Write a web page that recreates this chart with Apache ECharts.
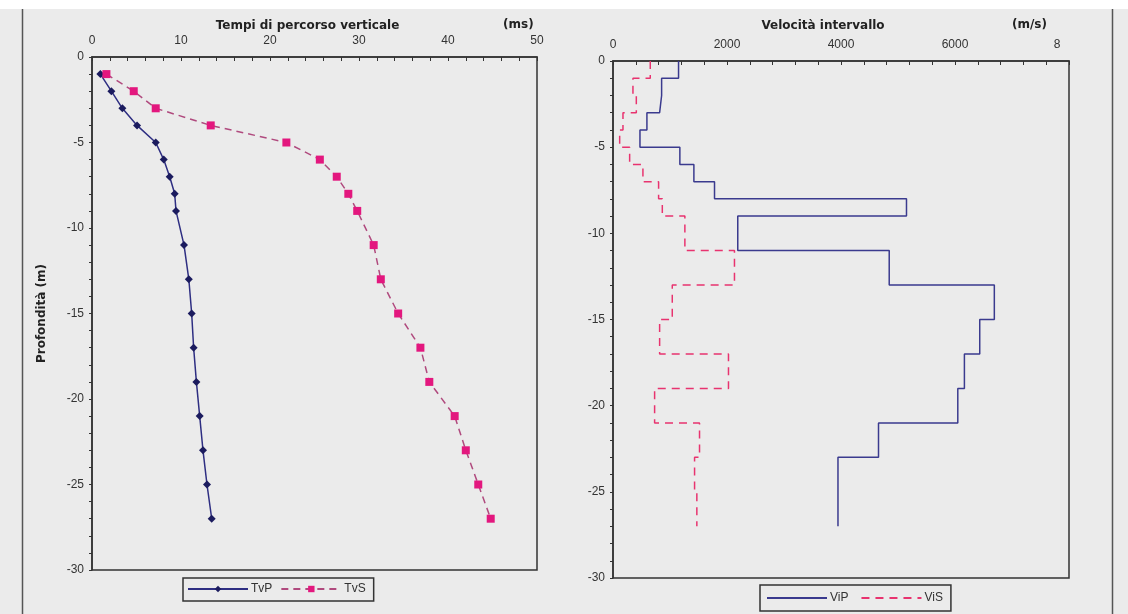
<!DOCTYPE html>
<html>
<head>
<meta charset="utf-8">
<script src="https://cdn.jsdelivr.net/npm/echarts@6/dist/echarts.min.js"></script>
<style>
html,body{margin:0;padding:0;background:#fff;}
#c{width:1128px;height:614px;}
</style>
</head>
<body>
<div id="c"></div>
<script>
// Depth of each measurement point (m)
const depths = [-1,-2,-3,-4,-5,-6,-7,-8,-9,-11,-13,-15,-17,-19,-21,-23,-25,-27];
// Vertical travel times (ms)
const tvP = [0.94,2.18,3.41,5.06,7.16,8.06,8.73,9.29,9.44,10.34,10.88,11.2,11.42,11.73,12.1,12.47,12.92,13.45];
const tvS = [1.62,4.69,7.16,13.34,21.84,25.6,27.5,28.8,29.8,31.65,32.45,34.4,36.9,37.9,40.75,42.0,43.4,44.8];
// Interval velocities (m/s), one per interval ending at depths[i]
const viP = [1150,853,818,595,473,1173,1419,1781,5149,2189,4846,6690,6434,6165,6049,4658,3947,3947];
const viS = [654,350,409,175,117,292,525,800,865,1261,2131,1040,818,2026,730,1518,1431,1471];
// Axis settings
const timeAxis = {min:0, max:50, interval:10};
const velAxis = {min:0, max:8000, interval:2000};
const depthAxis = {min:-30, max:0, interval:5};

const FONT = 'Liberation Sans, Arial, sans-serif';
const TFONT = 'DejaVu Sans, sans-serif';

function stepPoints(vals){
  const pts = [];
  for (let i=0;i<vals.length;i++){
    const top = i===0 ? 0 : depths[i-1];
    pts.push([vals[i], top]);
    pts.push([vals[i], depths[i]]);
  }
  return pts;
}

const chart = echarts.init(document.getElementById('c'), null, {renderer:'canvas'});

function xAx(cfg, gridIndex, name, shift, gap, fmt){
  return {
    type:'value', gridIndex, position:'top', min:cfg.min, max:cfg.max, interval:cfg.interval,
    name, nameLocation:'middle', nameGap:gap, nameMoveOverlap:false,
    nameTextStyle:{fontFamily:TFONT, fontWeight:'bold', fontSize:12, color:'#222', padding:[0,shift,0,0]},
    axisLine:{show:true, lineStyle:{color:'#333', width:1.5}},
    axisTick:{show:true, inside:true, length:4, lineStyle:{color:'#333'}},
    minorTick:{show:true, splitNumber:5, length:4, lineStyle:{color:'#333'}},
    splitLine:{show:false},
    axisLabel:{fontFamily:FONT, fontSize:12, color:'#333', margin:10, showMinLabel:true, showMaxLabel:true, hideOverlap:false, formatter:fmt, rich:{c:{fontFamily:FONT, fontSize:12, color:'#333', padding:[0,24,0,0]}}}
  };
}
function yAx(gridIndex, name){
  return {
    type:'value', gridIndex, min:depthAxis.min, max:depthAxis.max, interval:depthAxis.interval,
    name, nameLocation:'middle', nameGap:44, nameRotate:90, nameMoveOverlap:false,
    nameTextStyle:{fontFamily:TFONT, fontWeight:'bold', fontSize:12, color:'#222'},
    axisLine:{show:true, lineStyle:{color:'#333', width:1.5}},
    axisTick:{show:true, inside:false, length:3, lineStyle:{color:'#333'}},
    minorTick:{show:true, splitNumber:5, length:3, lineStyle:{color:'#333'}},
    splitLine:{show:false},
    axisLabel:{fontFamily:FONT, fontSize:12, color:'#333', margin:8, showMinLabel:true, showMaxLabel:true}
  };
}

const option = {
  backgroundColor:'#ebebeb',
  animation:false,
  graphic:[
    {type:'rect', shape:{x:0,y:0,width:1128,height:9}, style:{fill:'#ffffff'}, silent:true},
    {type:'line', shape:{x1:22.5,y1:9,x2:22.5,y2:614}, style:{stroke:'#555', lineWidth:1.5}, silent:true},
    {type:'line', shape:{x1:1112.5,y1:9,x2:1112.5,y2:614}, style:{stroke:'#555', lineWidth:1.5}, silent:true},
    {type:'text', left:503, top:19, style:{text:'(ms)', font:'bold 12px '+TFONT, fill:'#222'}},
    {type:'text', left:1012, top:19, style:{text:'(m/s)', font:'bold 12px '+TFONT, fill:'#222'}}
  ],
  grid:[
    {left:92, top:57, width:445, height:513, show:true, borderColor:'#333', borderWidth:1.5, backgroundColor:'#ebebeb', outerBoundsMode:'none', containLabel:false},
    {left:613, top:61, width:456, height:517, show:true, borderColor:'#333', borderWidth:1.5, backgroundColor:'#ebebeb', outerBoundsMode:'none', containLabel:false}
  ],
  xAxis:[
    xAx(timeAxis, 0, 'Tempi di percorso verticale', 14, 25),
    xAx(velAxis, 1, 'Velocità intervallo', 36, 29, v => v===8000 ? '{c|8}' : String(v))
  ],
  yAxis:[
    yAx(0, 'Profondità (m)'),
    yAx(1, '')
  ],
  legend:[
    {data:['TvP','TvS'], left:183, top:578, orient:'horizontal', itemWidth:60, itemHeight:8, itemGap:8,
     padding:[5,8,6,4], borderColor:'#333', borderWidth:1.5, backgroundColor:'#ebebeb',
     textStyle:{fontFamily:FONT, fontSize:12, color:'#333', padding:[0,0,0,-2]}},
    {data:['ViP','ViS'], left:760, top:585, orient:'horizontal', itemWidth:60, itemHeight:8, itemGap:12,
     padding:[7,8,7,6], borderColor:'#333', borderWidth:1.5, backgroundColor:'#ebebeb',
     itemStyle:{opacity:0},
     textStyle:{fontFamily:FONT, fontSize:12, color:'#333', padding:[0,0,0,-2]}}
  ],
  series:[
    {name:'TvP', type:'line', xAxisIndex:0, yAxisIndex:0, data:depths.map((d,i)=>[tvP[i], d]),
     symbol:'diamond', symbolSize:8, showSymbol:true,
     lineStyle:{color:'#2e2e82', width:1.5}, itemStyle:{color:'#1b1b5e'}},
    {name:'TvS', type:'line', xAxisIndex:0, yAxisIndex:0, data:depths.map((d,i)=>[tvS[i], d]),
     symbol:'rect', symbolSize:8, showSymbol:true,
     lineStyle:{color:'#b04a7e', width:1.5, type:[7,5]}, itemStyle:{color:'#e3177e'}},
    {name:'ViP', type:'line', xAxisIndex:1, yAxisIndex:1, data:stepPoints(viP),
     symbol:'none', lineStyle:{color:'#3a3a8e', width:1.5}, itemStyle:{color:'#3a3a8e'}},
    {name:'ViS', type:'line', xAxisIndex:1, yAxisIndex:1, data:stepPoints(viS),
     symbol:'none', lineStyle:{color:'#e8336f', width:1.5, type:[8,6]}, itemStyle:{color:'#e8336f'}}
  ]
};
chart.setOption(option);
</script>
</body>
</html>
